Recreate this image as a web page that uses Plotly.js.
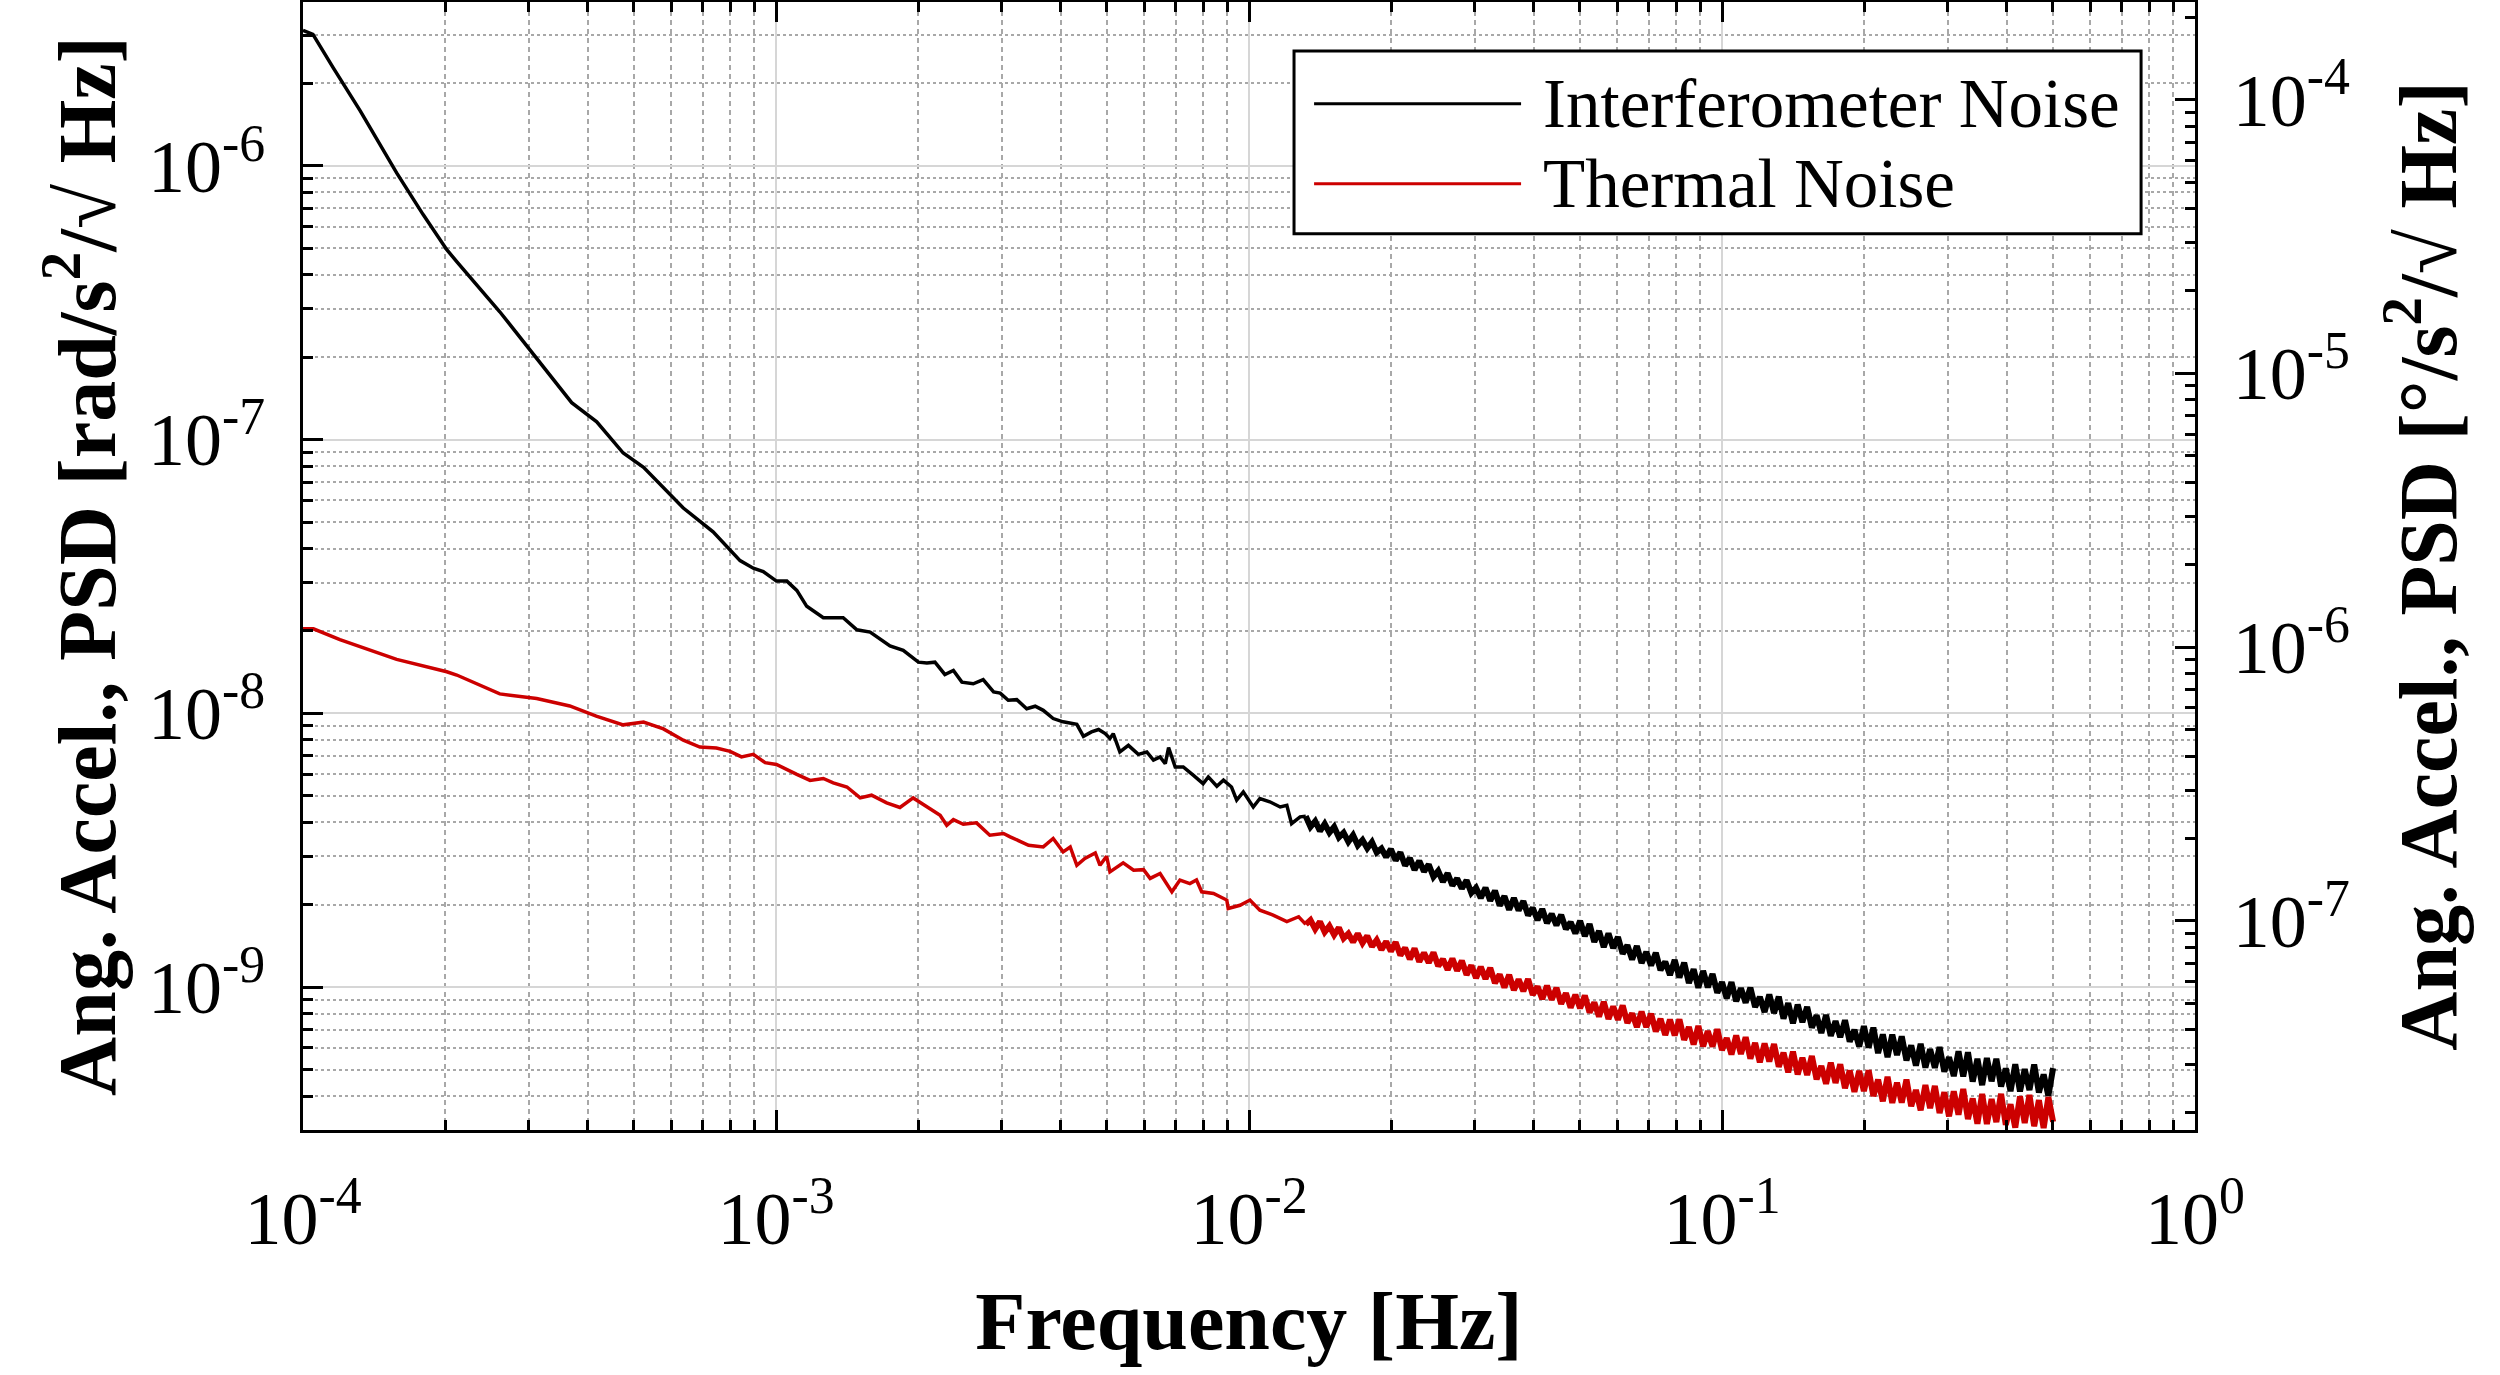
<!DOCTYPE html>
<html>
<head>
<meta charset="utf-8">
<script src="https://cdn.plot.ly/plotly-3.0.1.min.js"></script>
<style>
  html, body { margin: 0; padding: 0; background: #fff; }
  #chart { width: 2500px; height: 1375px; }
</style>
</head>
<body>
<div id="chart"></div>
<script>
// all values are log10 of the quantity
const seriesNames = ['Interferometer Noise', 'Thermal Noise'];
const seriesColors = ['#000000', '#cc0000'];

// smooth low-frequency part of the interferometer noise
const blackLowF = [-4.000, -3.979, -3.936, -3.879, -3.802, -3.746, -3.696, -3.675, -3.584, -3.513,
  -3.432, -3.379, -3.323, -3.280, -3.196, -3.133, -3.076, -3.048, -3.027, -2.999,
  -2.977, -2.956, -2.935, -2.900, -2.858, -2.829, -2.801, -2.759, -2.731, -2.699,
  -2.681, -2.664, -2.643, -2.625, -2.607, -2.583, -2.562, -2.540, -2.526, -2.509,
  -2.491, -2.470, -2.452, -2.435, -2.414, -2.393, -2.364, -2.350, -2.333, -2.318,
  -2.304, -2.294, -2.287, -2.273, -2.255, -2.234, -2.216, -2.202, -2.188, -2.177,
  -2.170, -2.156, -2.139, -2.118, -2.097, -2.086, -2.068, -2.054, -2.037, -2.026,
  -2.012, -1.991, -1.977, -1.956, -1.934, -1.920, -1.910, -1.892];
const blackLowP = [-5.505, -5.520, -5.642, -5.799, -6.026, -6.178, -6.306, -6.350, -6.533, -6.690,
  -6.865, -6.935, -7.049, -7.101, -7.250, -7.337, -7.442, -7.470, -7.482, -7.517,
  -7.517, -7.551, -7.609, -7.651, -7.651, -7.695, -7.703, -7.754, -7.770, -7.813,
  -7.816, -7.813, -7.858, -7.843, -7.886, -7.892, -7.877, -7.922, -7.926, -7.952,
  -7.950, -7.983, -7.974, -7.989, -8.019, -8.031, -8.040, -8.084, -8.068, -8.059,
  -8.074, -8.092, -8.074, -8.141, -8.117, -8.150, -8.141, -8.171, -8.159, -8.184,
  -8.125, -8.196, -8.196, -8.226, -8.257, -8.232, -8.266, -8.244, -8.269, -8.317,
  -8.287, -8.342, -8.311, -8.323, -8.342, -8.336, -8.403, -8.378];

// smooth low-frequency part of the thermal noise
const redLowF = [-4.000, -3.978, -3.922, -3.865, -3.802, -3.696, -3.675, -3.584, -3.506, -3.436,
  -3.380, -3.323, -3.280, -3.238, -3.196, -3.161, -3.126, -3.097, -3.073, -3.048,
  -3.023, -2.999, -2.974, -2.956, -2.928, -2.900, -2.879, -2.850, -2.822, -2.798,
  -2.766, -2.738, -2.710, -2.681, -2.653, -2.639, -2.625, -2.604, -2.576, -2.548,
  -2.519, -2.505, -2.491, -2.466, -2.435, -2.414, -2.393, -2.378, -2.364, -2.347,
  -2.325, -2.315, -2.301, -2.294, -2.266, -2.244, -2.223, -2.209, -2.188, -2.163,
  -2.146, -2.125, -2.111, -2.100, -2.075, -2.047, -2.044, -2.019, -1.998, -1.977,
  -1.949, -1.920, -1.895];
const redLowP = [-7.691, -7.691, -7.731, -7.766, -7.803, -7.848, -7.860, -7.929, -7.946, -7.973,
  -8.010, -8.042, -8.032, -8.057, -8.098, -8.123, -8.127, -8.139, -8.159, -8.150,
  -8.180, -8.187, -8.210, -8.223, -8.245, -8.238, -8.254, -8.269, -8.309, -8.299,
  -8.327, -8.344, -8.309, -8.342, -8.372, -8.409, -8.388, -8.405, -8.400, -8.445,
  -8.439, -8.451, -8.463, -8.482, -8.488, -8.457, -8.506, -8.488, -8.555, -8.530,
  -8.510, -8.555, -8.522, -8.579, -8.546, -8.573, -8.571, -8.603, -8.585, -8.652,
  -8.609, -8.622, -8.609, -8.652, -8.658, -8.682, -8.713, -8.701, -8.682, -8.719,
  -8.737, -8.761, -8.743];

// noisy high-frequency part (upper / lower edges of the band), shared frequency grid
const noiseF = [-1.88, -1.87, -1.86, -1.85, -1.84, -1.83, -1.82, -1.81, -1.80, -1.79,
  -1.78, -1.77, -1.76, -1.75, -1.74, -1.73, -1.72, -1.71, -1.70, -1.69,
  -1.68, -1.67, -1.66, -1.65, -1.64, -1.63, -1.62, -1.61, -1.60, -1.59,
  -1.58, -1.57, -1.56, -1.55, -1.54, -1.53, -1.52, -1.51, -1.50, -1.49,
  -1.48, -1.47, -1.46, -1.45, -1.44, -1.43, -1.42, -1.41, -1.40, -1.39,
  -1.38, -1.37, -1.36, -1.35, -1.34, -1.33, -1.32, -1.31, -1.30, -1.29,
  -1.28, -1.27, -1.26, -1.25, -1.24, -1.23, -1.22, -1.21, -1.20, -1.19,
  -1.18, -1.17, -1.16, -1.15, -1.14, -1.13, -1.12, -1.11, -1.10, -1.09,
  -1.08, -1.07, -1.06, -1.05, -1.04, -1.03, -1.02, -1.01, -1.00, -0.99,
  -0.98, -0.97, -0.96, -0.95, -0.94, -0.93, -0.92, -0.91, -0.90, -0.89,
  -0.88, -0.87, -0.86, -0.85, -0.84, -0.83, -0.82, -0.81, -0.80, -0.79,
  -0.78, -0.77, -0.76, -0.75, -0.74, -0.73, -0.72, -0.71, -0.70, -0.69,
  -0.68, -0.67, -0.66, -0.65, -0.64, -0.63, -0.62, -0.61, -0.60, -0.59,
  -0.58, -0.57, -0.56, -0.55, -0.54, -0.53, -0.52, -0.51, -0.50, -0.49,
  -0.48, -0.47, -0.46, -0.45, -0.44, -0.43, -0.42, -0.41, -0.40, -0.39,
  -0.38, -0.37, -0.36, -0.35, -0.34, -0.33, -0.32, -0.31, -0.30];
const blackNoiseP = [-8.376, -8.415, -8.394, -8.430, -8.404, -8.436, -8.415, -8.453, -8.436, -8.469,
  -8.445, -8.482, -8.463, -8.493, -8.470, -8.508, -8.494, -8.525, -8.496, -8.537,
  -8.508, -8.556, -8.529, -8.572, -8.539, -8.578, -8.552, -8.597, -8.576, -8.615,
  -8.584, -8.629, -8.603, -8.640, -8.610, -8.656, -8.637, -8.674, -8.637, -8.684,
  -8.648, -8.702, -8.668, -8.717, -8.675, -8.720, -8.686, -8.738, -8.711, -8.755,
  -8.715, -8.766, -8.733, -8.774, -8.736, -8.788, -8.763, -8.804, -8.758, -8.814,
  -8.770, -8.835, -8.795, -8.854, -8.804, -8.857, -8.817, -8.878, -8.847, -8.899,
  -8.850, -8.912, -8.872, -8.921, -8.875, -8.938, -8.907, -8.956, -8.901, -8.965,
  -8.911, -8.985, -8.935, -9.002, -8.941, -9.001, -8.952, -9.021, -8.982, -9.041,
  -8.982, -9.052, -9.004, -9.057, -9.002, -9.073, -9.036, -9.091, -9.027, -9.095,
  -9.035, -9.115, -9.059, -9.132, -9.064, -9.128, -9.072, -9.148, -9.103, -9.168,
  -9.102, -9.178, -9.124, -9.183, -9.121, -9.199, -9.156, -9.217, -9.143, -9.221,
  -9.148, -9.241, -9.173, -9.256, -9.174, -9.248, -9.180, -9.268, -9.213, -9.287,
  -9.207, -9.294, -9.227, -9.295, -9.219, -9.309, -9.256, -9.325, -9.235, -9.326,
  -9.238, -9.345, -9.262, -9.358, -9.259, -9.344, -9.262, -9.363, -9.297, -9.380,
  -9.282, -9.381, -9.300, -9.376, -9.283, -9.385, -9.319, -9.397, -9.296];
const redNoiseP = [-8.771, -8.755, -8.788, -8.761, -8.799, -8.777, -8.809, -8.783, -8.822, -8.805,
  -8.835, -8.805, -8.839, -8.813, -8.852, -8.828, -8.863, -8.834, -8.869, -8.836,
  -8.884, -8.857, -8.898, -8.859, -8.907, -8.875, -8.911, -8.874, -8.923, -8.898,
  -8.937, -8.896, -8.940, -8.904, -8.955, -8.921, -8.967, -8.926, -8.970, -8.930,
  -8.985, -8.954, -9.001, -8.955, -9.011, -8.972, -9.015, -8.971, -9.028, -8.998,
  -9.043, -8.995, -9.046, -9.003, -9.061, -9.022, -9.075, -9.028, -9.077, -9.031,
  -9.093, -9.056, -9.108, -9.054, -9.116, -9.071, -9.119, -9.067, -9.131, -9.096,
  -9.146, -9.090, -9.146, -9.097, -9.162, -9.116, -9.175, -9.119, -9.176, -9.118,
  -9.193, -9.146, -9.210, -9.142, -9.216, -9.161, -9.217, -9.154, -9.230, -9.186,
  -9.246, -9.177, -9.244, -9.183, -9.261, -9.204, -9.275, -9.206, -9.272, -9.208,
  -9.291, -9.240, -9.311, -9.236, -9.319, -9.258, -9.321, -9.252, -9.337, -9.288,
  -9.353, -9.276, -9.350, -9.282, -9.369, -9.305, -9.383, -9.306, -9.380, -9.304,
  -9.398, -9.338, -9.417, -9.328, -9.423, -9.349, -9.422, -9.338, -9.435, -9.376,
  -9.450, -9.358, -9.442, -9.361, -9.460, -9.384, -9.472, -9.381, -9.466, -9.372,
  -9.482, -9.407, -9.499, -9.390, -9.500, -9.409, -9.493, -9.390, -9.503, -9.428,
  -9.513, -9.399, -9.496, -9.394, -9.508, -9.413, -9.515, -9.402, -9.492];

// axes
const xTickVals = [1e-4, 1e-3, 1e-2, 1e-1, 1];
const xTickText = ['10<sup>-4</sup>', '10<sup>-3</sup>', '10<sup>-2</sup>', '10<sup>-1</sup>', '10<sup>0</sup>'];
const yTickVals = [1e-9, 1e-8, 1e-7, 1e-6];
const yTickText = ['10<sup>-9</sup>', '10<sup>-8</sup>', '10<sup>-7</sup>', '10<sup>-6</sup>'];
const y2TickVals = [1e-7, 1e-6, 1e-5, 1e-4];
const y2TickText = ['10<sup>-7</sup>', '10<sup>-6</sup>', '10<sup>-5</sup>', '10<sup>-4</sup>'];
const yRange = [-9.522, -5.4015];
const RAD_TO_DEG = 180 / Math.PI;

const FONT = '"Liberation Serif", "Times New Roman", serif';
const toLin = v => Math.pow(10, v);

function minorVals(lo, hi) {
    const out = [];
    for (let e = lo; e <= hi; e++) {
        for (let m = 2; m <= 9; m++) out.push(m * Math.pow(10, e));
    }
    return out;
}

const lowSets = [[blackLowF, blackLowP], [redLowF, redLowP]];
const bandSets = [blackNoiseP, redNoiseP];
const traces = [];
seriesNames.forEach((name, i) => {
    const [lf, lp] = lowSets[i];
    const np = bandSets[i];
    // thin line, joined to the first band point
    traces.push({
        x: lf.concat(noiseF.slice(0, 1)).map(toLin),
        y: lp.concat(np.slice(0, 1)).map(toLin),
        name: name, type: 'scatter', mode: 'lines',
        line: { color: seriesColors[i], width: 3.5 }
    });
    // dense noisy band
    traces.push({
        x: noiseF.map(toLin),
        y: np.map(toLin),
        name: name, type: 'scatter', mode: 'lines', showlegend: false,
        line: { color: seriesColors[i], width: 6, simplify: false }
    });
});
// empty trace so the degree axis on the right is drawn
traces.push({ x: [], y: [], yaxis: 'y2', type: 'scatter', mode: 'lines', showlegend: false });

const axisBase = {
    type: 'log', showline: true, linecolor: '#000', linewidth: 3,
    ticks: 'inside', ticklen: 20, tickwidth: 3, tickcolor: '#000',
    tickmode: 'array', zeroline: false,
    tickfont: { family: FONT, size: 74, color: '#000' }
};
const minorBase = { tickmode: 'array', ticks: 'inside', ticklen: 10, tickwidth: 3, tickcolor: '#000' };
const titleFont = { family: FONT, size: 82, color: '#000' };

// legend drawn by hand (long line samples like the original)
const legX0 = 0.5238, legX1 = 0.9715, legY0 = 0.7945, legY1 = 0.9566;
const legLineX0 = 0.5344, legLineX1 = 0.6438, legTextX = 0.6543;
const legRowY = [0.9097, 0.8388];

const shapes = [{
    type: 'rect', xref: 'paper', yref: 'paper', layer: 'above',
    x0: legX0, x1: legX1, y0: legY0, y1: legY1,
    fillcolor: '#fff', line: { color: '#000', width: 3 }
}];
const annotations = [];
seriesNames.forEach((name, i) => {
    shapes.push({
        type: 'line', xref: 'paper', yref: 'paper', layer: 'above',
        x0: legLineX0, x1: legLineX1, y0: legRowY[i], y1: legRowY[i],
        line: { color: seriesColors[i], width: 3 }
    });
    annotations.push({
        xref: 'paper', yref: 'paper', x: legTextX, y: legRowY[i],
        xanchor: 'left', yanchor: 'middle', showarrow: false,
        text: name, font: { family: FONT, size: 69, color: '#000' }
    });
});

const layout = {
    width: 2500, height: 1375,
    margin: { l: 303, r: 305, t: 2, b: 245 },
    paper_bgcolor: '#fff', plot_bgcolor: '#fff',
    showlegend: false,
    font: { family: FONT, color: '#000' },
    xaxis: Object.assign({}, axisBase, {
        range: [-4, 0], mirror: 'ticks',
        tickvals: xTickVals, ticktext: xTickText,
        ticklabelstandoff: 22,
        showgrid: true, gridcolor: '#d6d6d6', gridwidth: 2,
        minor: Object.assign({}, minorBase, {
            tickvals: minorVals(-4, -1),
            showgrid: true, gridcolor: '#a8a8a8', gridwidth: 2, griddash: '5px,4px'
        }),
        title: { text: '<b>Frequency [Hz]</b>', font: titleFont, standoff: 33 }
    }),
    yaxis: Object.assign({}, axisBase, {
        range: yRange, mirror: false,
        tickvals: yTickVals, ticktext: yTickText,
        ticklabelstandoff: 20,
        showgrid: true, gridcolor: '#d6d6d6', gridwidth: 2,
        minor: Object.assign({}, minorBase, {
            tickvals: minorVals(-10, -6),
            showgrid: true, gridcolor: '#a8a8a8', gridwidth: 2, griddash: 'dot'
        }),
        title: { text: '<b>Ang. Accel., PSD [rad/s<sup>2</sup>/√ Hz]</b>', font: titleFont, standoff: 6 }
    }),
    yaxis2: Object.assign({}, axisBase, {
        overlaying: 'y', side: 'right',
        range: yRange.map(v => v + Math.log10(RAD_TO_DEG)),
        tickvals: y2TickVals, ticktext: y2TickText,
        ticklabelstandoff: 20,
        showgrid: false,
        minor: Object.assign({}, minorBase, { tickvals: minorVals(-8, -4), showgrid: false }),
        title: { text: '<b>Ang. Accel., PSD [°/s<sup>2</sup>/√ Hz]</b>', font: titleFont, standoff: 50 }
    }),
    shapes: shapes,
    annotations: annotations
};

Plotly.newPlot('chart', traces, layout, { displayModeBar: false, staticPlot: true });
</script>
</body>
</html>
